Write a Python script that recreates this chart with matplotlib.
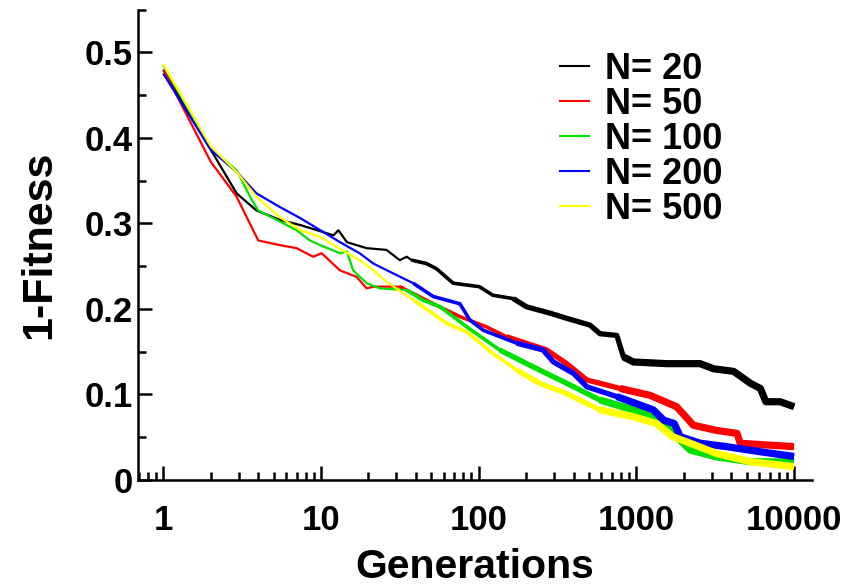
import matplotlib
matplotlib.use("Agg")
import matplotlib.pyplot as plt
from matplotlib.ticker import FixedLocator, LogLocator, NullFormatter, FixedFormatter

plt.rcParams['font.family'] = ['Liberation Sans', 'DejaVu Sans']
plt.rcParams['font.weight'] = 'bold'

labels = ["N= 20", "N= 50", "N= 100", "N= 200", "N= 500"]
colors = ["#000000", "#ff0000", "#00e000", "#0000ff", "#ffff00"]

x20 = [1, 2, 2.92, 3.9, 5.5, 7.4, 12, 12.9, 14.6, 19.5, 26, 31.6, 35, 37.6, 46.7, 54, 69, 101, 123, 166,
       201, 284, 362, 509, 588, 752, 828, 955, 1560, 2540, 3090, 4140, 5300, 6120, 6630, 8170, 10000]
y20 = [0.479, 0.386, 0.335, 0.315, 0.304, 0.298, 0.286, 0.292, 0.278, 0.271, 0.269, 0.257, 0.261, 0.257,
       0.253, 0.247, 0.230, 0.226, 0.216, 0.212, 0.2025, 0.195, 0.189, 0.181, 0.171, 0.169, 0.144, 0.138,
       0.136, 0.136, 0.130, 0.127, 0.113, 0.107, 0.0915, 0.0915, 0.0857]

x50 = [1, 2, 2.92, 4.0, 5.5, 7.0, 8.9, 10.1, 13.2, 16.8, 19.5, 21.5, 31.6, 51.5, 76, 112, 150, 270, 362,
       485, 790, 1220, 1800, 2300, 3220, 4350, 4560, 6630, 10000]
y50 = [0.480, 0.372, 0.331, 0.280, 0.2745, 0.271, 0.261, 0.265, 0.245, 0.2375, 0.224, 0.226, 0.226, 0.206,
       0.191, 0.179, 0.1675, 0.152, 0.136, 0.117, 0.107, 0.099, 0.0857, 0.064, 0.058, 0.0545, 0.043, 0.041,
       0.039]

x100 = [1, 2, 2.92, 3.55, 4.0, 5.5, 7.0, 8.5, 9.9, 13.2, 14.6, 16, 19.5, 23.7, 35, 44.5, 57, 84, 136, 220,
        362, 588, 955, 1400, 1800, 2200, 3220, 5300, 10000]
y100 = [0.485, 0.3875, 0.362, 0.331, 0.315, 0.302, 0.292, 0.280, 0.2745, 0.265, 0.267, 0.245, 0.230, 0.224,
        0.222, 0.210, 0.2025, 0.179, 0.152, 0.1325, 0.113, 0.0935, 0.082, 0.070, 0.0506, 0.035, 0.027,
        0.0214, 0.021]

x200 = [1, 2, 2.92, 3.9, 5.5, 7.4, 9.9, 13.2, 17.6, 21.5, 28.7, 38.5, 51.5, 76, 88, 107, 174, 256, 298, 400,
        485, 752, 1280, 1490, 1740, 1900, 2540, 3730, 6120, 10000]
y200 = [0.475, 0.386, 0.360, 0.335, 0.319, 0.306, 0.292, 0.278, 0.265, 0.253, 0.2415, 0.230, 0.2145, 0.206,
        0.187, 0.175, 0.160, 0.152, 0.138, 0.1245, 0.109, 0.0975, 0.082, 0.070, 0.066, 0.0506, 0.043, 0.039,
        0.033, 0.0275]

x500 = [1, 2, 2.92, 3.9, 5.5, 7.4, 9.9, 13.2, 17.6, 21.5, 26, 31.6, 38.5, 49, 63, 84, 123, 174, 244, 362,
        588, 955, 1340, 1700, 2200, 3220, 5300, 10000]
y500 = [0.486, 0.390, 0.360, 0.331, 0.307, 0.292, 0.284, 0.270, 0.257, 0.245, 0.232, 0.221, 0.2105, 0.197,
        0.183, 0.173, 0.148, 0.1285, 0.113, 0.101, 0.082, 0.074, 0.066, 0.0506, 0.043, 0.031, 0.0214, 0.0156]

series_x = [x20, x50, x100, x200, x500]
series_y = [y20, y50, y100, y200, y500]

fig = plt.figure(figsize=(8.5, 5.87), dpi=100)
ax = fig.add_axes([138.3 / 850, 1 - 480 / 587, (811.7 - 138.3) / 850, (480 - 9.5) / 587])

# the run gets noisier (denser) with generations: draw it as a band that thickens
tiers = [(0, 1.6), (40, 2.6), (200, 3.8), (900, 5.2)]
for xs, ys, c in zip(series_x, series_y, colors):
    for xmin, lw in tiers:
        idx = [i for i, v in enumerate(xs) if v >= xmin]
        if idx and idx[0] > 0:
            idx = [idx[0] - 1] + idx
        ax.plot([xs[i] for i in idx], [ys[i] for i in idx], color=c, lw=lw,
                solid_joinstyle='round', solid_capstyle='butt')

ax.set_xscale('log')
ax.set_xlim(0.694, 12950)
ax.set_ylim(0, 0.55)

for s in ['top', 'right']:
    ax.spines[s].set_visible(False)
for s in ['left', 'bottom']:
    ax.spines[s].set_linewidth(1.8)

xt = [1, 10, 100, 1000, 10000]
ax.xaxis.set_major_locator(FixedLocator(xt))
ax.xaxis.set_major_formatter(FixedFormatter(["1", "10", "100", "1000", "10000"]))
ax.xaxis.set_minor_locator(LogLocator(base=10, subs=[2, 3, 4, 5, 6, 7, 8, 9], numticks=20))
ax.xaxis.set_minor_formatter(NullFormatter())

yt = [0, 0.1, 0.2, 0.3, 0.4, 0.5]
ax.yaxis.set_major_locator(FixedLocator(yt))
ax.yaxis.set_major_formatter(FixedFormatter(["0", "0.1", "0.2", "0.3", "0.4", "0.5"]))
ax.yaxis.set_minor_locator(FixedLocator([0.05, 0.15, 0.25, 0.35, 0.45, 0.55]))

ax.tick_params(axis='both', which='major', direction='in', length=10, width=1.8, labelsize=25)
ax.tick_params(axis='both', which='minor', direction='in', length=5.5, width=1.8)
ax.tick_params(axis='x', which='major', pad=17)
ax.tick_params(axis='y', which='major', pad=4)
for t in ax.get_xticklabels() + ax.get_yticklabels():
    t.set_fontweight('bold')

ax.set_xlabel("Generations", fontsize=29.5, fontweight='bold', labelpad=8)
ax.set_ylabel("1-Fitness", fontsize=31, fontweight='bold', labelpad=18)

leg_handles = []
for c in colors:
    h, = ax.plot([], [], color=c, lw=1.5)
    leg_handles.append(h)
leg = ax.legend(leg_handles, labels, loc='upper left', bbox_to_anchor=(560 / 850, 1 - 52 / 587),
                bbox_transform=fig.transFigure, frameon=False,
                prop={'weight': 'bold', 'size': 26}, handlelength=0.8, handletextpad=0.45,
                labelspacing=0.0, borderpad=0.0, borderaxespad=0.0)

fig.savefig("out.png", dpi=100)
